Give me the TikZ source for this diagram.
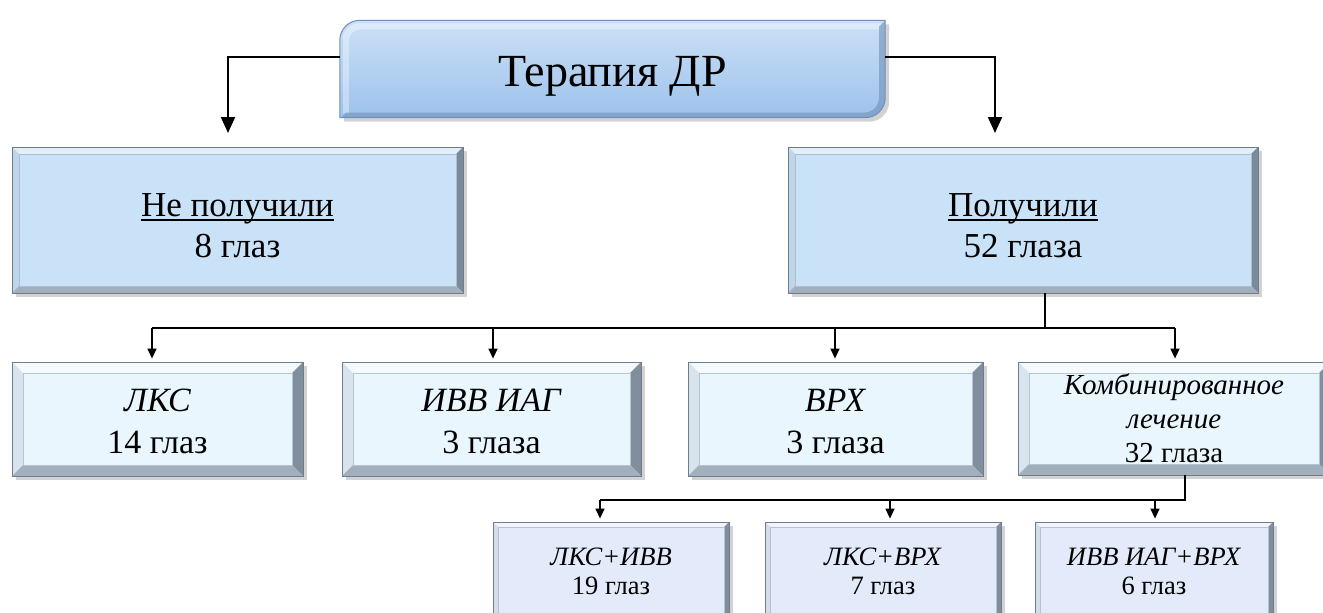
\documentclass[tikz,border=0pt]{standalone}
\usepackage{fontspec}
\setmainfont{Liberation Serif}
\usetikzlibrary{calc,arrows.meta,backgrounds}

\definecolor{topA}{HTML}{CCE0F6}
\definecolor{topB}{HTML}{9DC2EC}
\definecolor{topEdge}{HTML}{6F8FB8}
\definecolor{lvlTwo}{HTML}{C9E2F8}
\definecolor{lvlThree}{HTML}{EAF6FD}
\definecolor{lvlFour}{HTML}{E3EBFA}
\definecolor{edgeDark}{HTML}{6E7C8C}
\definecolor{edgeMid}{HTML}{A2AFBD}
\definecolor{shadowGray}{HTML}{7F7F7F}

% underline with a rule that scales with the font
\newcommand\ulin[1]{\setbox0\hbox{#1}\rlap{\rule[-0.13em]{\wd0}{0.055em}}\box0}
% invisible strut that pushes a text block down inside its box
\newcommand\lowerby[1]{\rule{0pt}{#1}}

\tikzset{
  % raised frame: light top/left strips, dark right/bottom strips
  bevel/.style 2 args={
    fill=#2, draw=edgeDark, line width=0.8pt, align=center, inner sep=0pt,
    path picture={
      \coordinate (P1) at (path picture bounding box.north west);
      \coordinate (P2) at (path picture bounding box.north east);
      \coordinate (P3) at (path picture bounding box.south east);
      \coordinate (P4) at (path picture bounding box.south west);
      \coordinate (Q1) at ($(P1)+(#1,#1)$);
      \coordinate (Q2) at ($(P2)+(-#1,#1)$);
      \coordinate (Q3) at ($(P3)+(-#1,-#1)$);
      \coordinate (Q4) at ($(P4)+(#1,-#1)$);
      \fill[#2!55!white] (P1)--(P2)--(Q2)--(Q1)--cycle;
      \fill[#2!75!edgeMid] (P1)--(Q1)--(Q4)--(P4)--cycle;
      \fill[edgeDark!85!#2] (P2)--(P3)--(Q3)--(Q2)--cycle;
      \fill[edgeMid] (P4)--(Q4)--(Q3)--(P3)--cycle;
      \draw[edgeMid!70!#2, line width=0.8pt] (Q1) rectangle (Q3);
    }},
  dropshadow/.style={fill=shadowGray, opacity=0.35},
  conn/.style={draw=black, line width=1.4pt},
  bigarrow/.style={conn, line width=2pt, -{Triangle[length=16pt,width=14pt]}},
  smallarrow/.style={conn, -{Triangle[length=10pt,width=9pt]}, shorten >=3pt},
  fTop/.style={font=\fontsize{46}{50}\selectfont},
  fTwo/.style={font=\fontsize{35}{41}\selectfont},
  fThree/.style={font=\fontsize{34}{42}\selectfont},
  fComb/.style={font=\fontsize{29}{34}\selectfont},
  fFour/.style={font=\fontsize{26.5}{29}\selectfont},
}

\begin{document}
\begin{tikzpicture}[x=1pt,y=-1pt]
\useasboundingbox (0,0) rectangle (1323,613);

% title
\node[fTop, minimum width=545pt, minimum height=97pt, inner sep=0pt] (ther) at (612.5,69)
  {\lowerby{44pt}Терапия ДР};

% second level
\node[bevel={7}{lvlTwo}, fTwo, minimum width=451pt, minimum height=146pt] (none) at (237.5,220)
  {\lowerby{34pt}\ulin{Не получили}\\8 глаз};
\node[bevel={7}{lvlTwo}, fTwo, minimum width=470pt, minimum height=146pt] (got) at (1023,220)
  {\lowerby{34pt}\ulin{Получили}\\52 глаза};

% third level
\node[bevel={11}{lvlThree}, fThree, minimum width=291pt, minimum height=114pt] (lks) at (157.5,419)
  {\lowerby{28pt}\textit{ЛКС}\\14 глаз};
\node[bevel={11}{lvlThree}, fThree, minimum width=299pt, minimum height=114pt] (ivv) at (491.5,419)
  {\lowerby{28pt}\textit{ИВВ ИАГ}\\3 глаза};
\node[bevel={11}{lvlThree}, fThree, minimum width=295pt, minimum height=114pt] (vrh) at (835.5,419)
  {\lowerby{28pt}\textit{ВРХ}\\3 глаза};
\node[bevel={11}{lvlThree}, fComb, minimum width=312pt, minimum height=113pt] (comb) at (1174,418.5)
  {\textit{Комбинированное}\\\textit{лечение}\\32 глаза};

% fourth level
\node[bevel={5}{lvlFour}, fFour, minimum width=236pt, minimum height=98pt] (lkivv) at (611,571)
  {\textit{ЛКС+ИВВ}\\19 глаз};
\node[bevel={5}{lvlFour}, fFour, minimum width=236pt, minimum height=98pt] (lkvrh) at (883,571)
  {\textit{ЛКС+ВРХ}\\7 глаз};
\node[bevel={5}{lvlFour}, fFour, minimum width=238pt, minimum height=98pt] (ivvrh) at (1154,571)
  {\textit{ИВВ ИАГ+ВРХ}\\6 глаз};

% title shape and shadows behind the boxes
\begin{scope}[on background layer]
  \foreach \n in {none,got,lks,ivv,vrh,comb,lkivv,lkvrh,ivvrh}
    \fill[dropshadow] ($(\n.north west)+(4,4)$) rectangle ($(\n.south east)+(4,4)$);
  \fill[dropshadow] ($(ther.north west)+(4,22)$)
     -- ($(ther.north east)+(4,4)$) -- ($(ther.south east)+(4,-16)$)
     .. controls ($(ther.south east)+(4,-5)$) and ($(ther.south east)+(-5,4)$) .. ($(ther.south east)+(-16,4)$)
     -- ($(ther.south west)+(4,4)$) -- cycle;
  \path[top color=topA, bottom color=topB, draw=topEdge, line width=1pt]
     ($(ther.north west)+(0,20)$)
     .. controls ($(ther.north west)+(0,9)$) and ($(ther.north west)+(9,0)$) .. ($(ther.north west)+(20,0)$)
     -- (ther.north east) -- ($(ther.south east)+(0,-20)$)
     .. controls ($(ther.south east)+(0,-9)$) and ($(ther.south east)+(-9,0)$) .. ($(ther.south east)+(-20,0)$)
     -- (ther.south west) -- cycle;
  \fill[white, opacity=0.35]
     ($(ther.north west)+(3,20)$)
     .. controls ($(ther.north west)+(3,10)$) and ($(ther.north west)+(10,3)$) .. ($(ther.north west)+(20,3)$)
     -- ($(ther.north east)+(-4,3)$) -- ($(ther.north east)+(-4,9)$)
     -- ($(ther.north west)+(22,9)$)
     .. controls ($(ther.north west)+(14,9)$) and ($(ther.north west)+(9,14)$) .. ($(ther.north west)+(9,22)$)
     -- ($(ther.south west)+(9,-4)$)
     -- ($(ther.south west)+(3,-4)$) -- cycle;
  \fill[topEdge, opacity=0.6]
     ($(ther.north east)+(-6,6)$) -- (ther.north east) -- ($(ther.south east)+(0,-20)$)
     .. controls ($(ther.south east)+(0,-9)$) and ($(ther.south east)+(-9,0)$) .. ($(ther.south east)+(-20,0)$)
     -- ($(ther.south west)+(1,0)$) -- ($(ther.south west)+(6,-5)$)
     -- ($(ther.south east)+(-22,-5)$)
     .. controls ($(ther.south east)+(-12,-5)$) and ($(ther.south east)+(-6,-12)$) .. ($(ther.south east)+(-6,-22)$)
     -- cycle;
\end{scope}

% branch points
\coordinate (tL) at (228,133);
\coordinate (tR) at (995,133);
\coordinate (b0) at (1045,328);
\coordinate (b1) at (152,328);
\coordinate (b2) at (493,328);
\coordinate (b3) at (835,328);
\coordinate (b4) at (1175,328);
\coordinate (c0) at (1185,500);
\coordinate (c1) at (600,500);
\coordinate (c2) at (890,500);
\coordinate (c3) at (1155,500);

% title to second level
\draw[bigarrow] ([yshift=12pt]ther.west) -| (tL);
\draw[bigarrow] ([yshift=12pt]ther.east) -| (tR);

% second to third level
\draw[conn] (got.south -| b0) -- (b0);
\draw[conn] (b1) -- (b4);
\draw[smallarrow] (b1) -- (b1 |- lks.north);
\draw[smallarrow] (b2) -- (b2 |- ivv.north);
\draw[smallarrow] (b3) -- (b3 |- vrh.north);
\draw[smallarrow] (b4) -- (b4 |- comb.north);

% third to fourth level
\draw[conn] (comb.south -| c0) -- (c0) -- (c1);
\draw[smallarrow] (c1) -- (c1 |- lkivv.north);
\draw[smallarrow] (c2) -- (c2 |- lkvrh.north);
\draw[smallarrow] (c3) -- (c3 |- ivvrh.north);
\end{tikzpicture}
\end{document}
